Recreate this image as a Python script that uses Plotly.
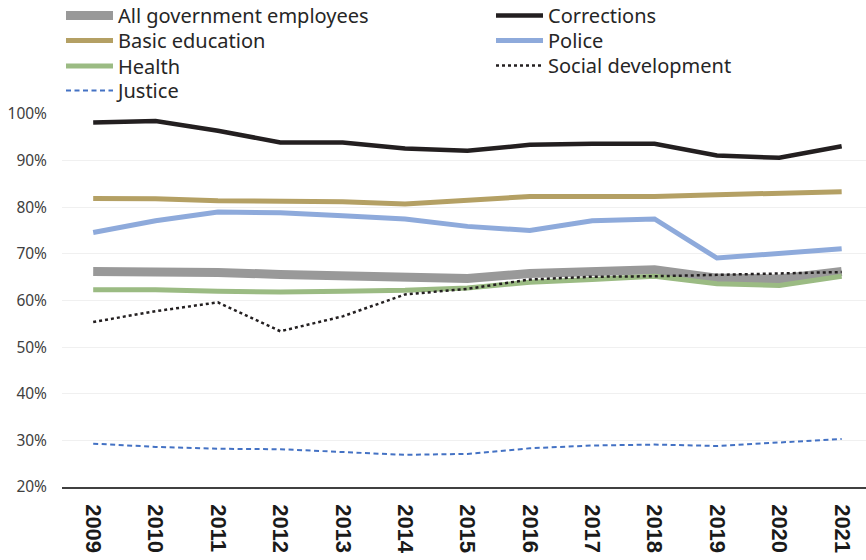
import plotly.graph_objects as go

# Years on the category axis
years = [str(y) for y in range(2009, 2022)]

# Share of employees (%) by department
all_government = [66.2, 66.3, 66.0, 65.6, 65.4, 64.8, 64.7, 65.8, 66.4, 66.6, 64.8, 64.6, 66.2]
basic_education = [81.9, 81.8, 81.4, 81.2, 81.2, 80.7, 81.6, 82.3, 82.3, 82.3, 82.7, 83.0, 83.3]
health = [62.3, 62.3, 62.0, 61.8, 62.0, 62.2, 62.7, 63.9, 64.5, 65.2, 63.6, 63.2, 65.2]
justice = [29.3, 28.6, 28.2, 28.1, 27.5, 26.9, 27.1, 28.3, 28.9, 29.1, 28.8, 29.5, 30.3]
corrections = [98.2, 98.5, 96.4, 93.9, 93.9, 92.6, 92.1, 93.4, 93.6, 93.6, 91.1, 90.6, 93.1]
police = [74.6, 77.1, 79.0, 78.8, 78.2, 77.5, 75.9, 75.0, 77.1, 77.5, 69.1, 70.2, 71.1]
social_development = [55.4, 57.7, 59.6, 53.4, 56.6, 61.3, 62.5, 64.5, 65.1, 65.2, 65.5, 65.8, 66.1]

series = [
    ("All government employees", all_government, dict(color="#999999", width=9)),
    ("Basic education", basic_education, dict(color="#b4a064", width=5)),
    ("Health", health, dict(color="#9bbb83", width=5)),
    ("Justice", justice, dict(color="#4472c4", width=2, dash="5px,3.5px")),
    ("Corrections", corrections, dict(color="#231f20", width=4.5)),
    ("Police", police, dict(color="#8eaadb", width=5)),
    ("Social development", social_development, dict(color="#231f20", width=2.5, dash="dot")),
]

# Legend entries laid out in two columns: (left edge px, row centre px)
legend_slots = [(61, 15.5), (61, 40.5), (61, 66), (61, 90.5),
                (491, 15.5), (491, 40.5), (491, 65.5)]

W, H = 866, 560
legend_font = dict(family="Noto Sans", size=20, color="#262626")

fig = go.Figure()
layout_legends = {}
for i, ((name, values, line), (lx, ly)) in enumerate(zip(series, legend_slots)):
    key = "legend" if i == 0 else f"legend{i + 1}"
    fig.add_trace(go.Scatter(
        x=years, y=[v / 100 for v in values], name=name, mode="lines",
        line=line, legend=key,
    ))
    layout_legends[key] = dict(
        xref="container", yref="container", x=lx / W, y=1 - ly / H,
        xanchor="left", yanchor="middle", font=legend_font,
        bgcolor="rgba(0,0,0,0)", itemwidth=47,
    )

fig.update_layout(
    width=W, height=H,
    margin=dict(l=62, r=0, t=114, b=73, autoexpand=False),
    plot_bgcolor="white", paper_bgcolor="white",
    showlegend=True,
    xaxis=dict(
        type="category", range=[-0.5, 12.39], tickangle=90,
        tickmode="array", tickvals=years, ticktext=years,
        showgrid=False, showline=True, linecolor="#404040", linewidth=1.5,
        ticks="", ticklabelstandoff=11,
        tickfont=dict(family="Liberation Sans", size=22, color="#1a1a1a", weight="bold"),
    ),
    yaxis=dict(
        range=[0.2, 1.0], dtick=0.1, tickformat=".0%",
        showgrid=True, gridcolor="#f0f0f0", gridwidth=1, zeroline=False,
        ticks="", ticklabelstandoff=14,
        tickfont=dict(family="Noto Sans", size=15.5, color="#404040"),
    ),
    **layout_legends,
)

fig.write_html("out.html")
